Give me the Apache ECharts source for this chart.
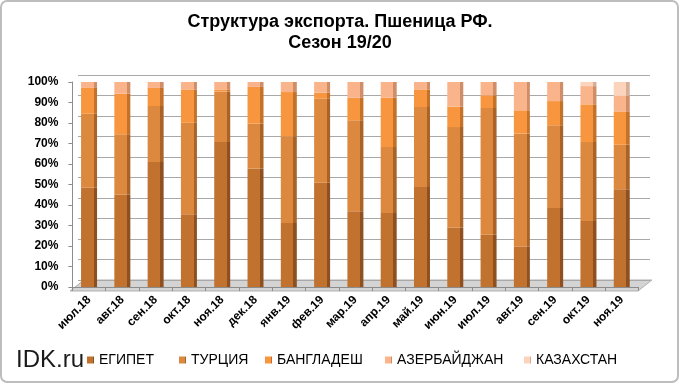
<!DOCTYPE html>
<html><head><meta charset="utf-8">
<script src="https://cdn.jsdelivr.net/npm/echarts@6/dist/echarts.min.js"></script>
<style>html,body{margin:0;padding:0;background:#fff}#c{width:680px;height:384px}</style>
</head><body><div id="c"></div>
<script>
const categories = ['июл.18','авг.18','сен.18','окт.18','ноя.18','дек.18','янв.19','фев.19','мар.19','апр.19','май.19','июн.19','июл.19','авг.19','сен.19','окт.19','ноя.19'];
const seriesNames = ['ЕГИПЕТ','ТУРЦИЯ','БАНГЛАДЕШ','АЗЕРБАЙДЖАН','КАЗАХСТАН'];
const egypt      = [48.4,45.0,61.0,35.5,70.7,57.7,31.2,50.9,36.9,36.1,48.8,29.0,25.5,19.8,38.5,32.2,47.7];
const turkey     = [36.1,29.5,27.3,44.6,24.7,22.0,42.3,41.0,44.4,32.2,39.0,49.0,61.8,55.0,40.4,38.5,21.7];
const bangladesh = [12.6,19.8, 8.8,16.3, 1.0,17.9,21.6, 2.9,11.0,24.0, 8.6,10.0, 6.2,11.4,11.8,18.4,16.0];
const azerbaijan = [ 2.9, 5.7, 2.9, 3.6, 3.6, 2.4, 4.9, 5.2, 7.7, 7.7, 3.6,12.0, 6.5,13.8, 9.3, 8.9, 7.8];
const kazakhstan = [ 0, 0, 0, 0, 0, 0, 0, 0, 0, 0, 0, 0, 0, 0, 0, 2.0, 6.8];
const yMin = 0, yMax = 100, yStep = 10;

const values = [egypt, turkey, bangladesh, azerbaijan, kazakhstan];
const fronts = ['#c2722f','#dc893f','#f7963e','#f9b48c','#fcd4bc'];
const sides  = ['#8e5020','#a96327','#c4722a','#cf8d68','#d6ad95'];
const legendLeft = [87, 179, 265, 385, 524];

function grad(f, s) {
  return new echarts.graphic.LinearGradient(0, 0, 1, 0, [
    {offset: 0, color: f}, {offset: 0.79, color: f},
    {offset: 0.79, color: s}, {offset: 1, color: s}
  ]);
}

const chart = echarts.init(document.getElementById('c'), null, {renderer: 'canvas'});
const font = 'Arial, "Liberation Sans", sans-serif';
const series = seriesNames.map((n, i) => ({
  name: n, type: 'bar', stack: 'total', xAxisIndex: 1, yAxisIndex: 1,
  barWidth: 16, data: values[i],
  itemStyle: {color: grad(fronts[i], sides[i])}, z: 3
}));

chart.setOption({
  animation: false,
  backgroundColor: '#fff',
  title: [
    {text: 'Структура экспорта. Пшеница РФ.\nСезон 19/20', left: 'center', top: 7,
     textStyle: {fontFamily: font, fontSize: 18, fontWeight: 'bold', color: '#000', lineHeight: 21}},
    {text: 'IDK.ru', left: 11, top: 343,
     textStyle: {fontFamily: font, fontSize: 24, fontWeight: 'normal', color: '#1a1a1a'}}
  ],
  legend: seriesNames.map((n, i) => ({
    data: [n], left: legendLeft[i], top: 353, padding: 0, itemWidth: 7, itemHeight: 7, icon: 'rect',
    itemGap: 0, textStyle: {fontFamily: font, fontSize: 14, color: '#000'}
  })),
  grid: [
    {left: 78, right: 30, top: 75, height: 205},
    {left: 72.4, right: 41.6, top: 82, height: 205}
  ],
  xAxis: [
    {type: 'category', gridIndex: 0, data: categories, show: false},
    {type: 'category', gridIndex: 1, data: categories, offset: 2,
     axisLine: {show: true, lineStyle: {color: '#8c8c8c'}},
     axisTick: {show: true, length: 4, lineStyle: {color: '#8c8c8c'}},
     axisLabel: {interval: 0, rotate: 45, fontFamily: font, fontSize: 12, fontWeight: 'bold', color: '#000', margin: 9}}
  ],
  yAxis: [
    {type: 'value', gridIndex: 0, min: yMin, max: yMax, interval: yStep,
     axisLabel: {show: false}, axisLine: {show: false}, axisTick: {show: false},
     splitLine: {show: true, lineStyle: {color: '#a8a8a8', width: 1}}},
    {type: 'value', gridIndex: 1, min: yMin, max: yMax, interval: yStep,
     axisLabel: {formatter: '{value}%', fontFamily: font, fontSize: 12, fontWeight: 'bold', color: '#000', margin: 14},
     axisLine: {show: true, lineStyle: {color: '#8c8c8c'}},
     axisTick: {show: true, length: 4, lineStyle: {color: '#8c8c8c'}},
     splitLine: {show: false}}
  ],
  graphic: [
    {type: 'rect', shape: {x: 1, y: 1, width: 677, height: 381, r: 6}, silent: true,
     style: {fill: 'none', stroke: '#bdbdbd', lineWidth: 2}, z: 100},
    {type: 'polygon', shape: {points: [[70, 291], [638, 291], [652, 280], [84, 280]]}, silent: true,
     style: {fill: '#d4d4d4', stroke: '#b0b0b0', lineWidth: 1}, z: 0}
  ],
  series: series
});
</script>
</body></html>
